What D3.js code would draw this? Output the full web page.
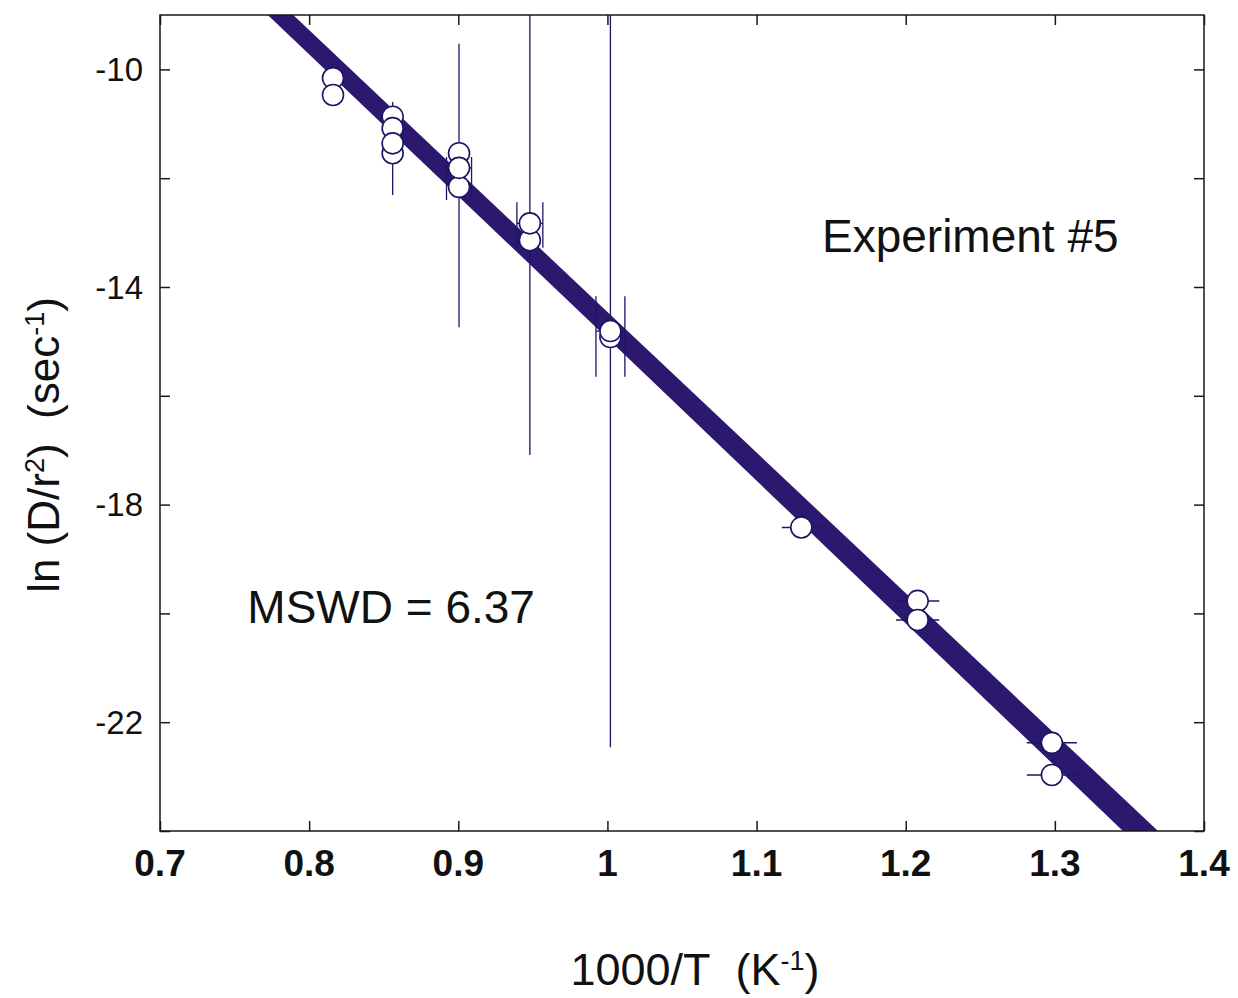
<!DOCTYPE html>
<html>
<head>
<meta charset="utf-8">
<script src="https://cdn.jsdelivr.net/npm/d3@7"></script>
<style>
  html, body { margin: 0; padding: 0; background: #ffffff; }
  svg { display: block; }
  text { font-family: "Liberation Sans", Arial, Helvetica, sans-serif; fill: #111; }
</style>
</head>
<body>
<svg id="chart" width="1238" height="998"></svg>
<script>
// ---------------- data ----------------
const xDomain = [0.7, 1.4];
const yDomain = [-24, -9];
const xTickValues = [0.7, 0.8, 0.9, 1.0, 1.1, 1.2, 1.3, 1.4];
const xTickLabels = ["0.7", "0.8", "0.9", "1", "1.1", "1.2", "1.3", "1.4"];
const yTickValues = [-24, -22, -20, -18, -16, -14, -12, -10];
const yLabelValues = [-22, -18, -14, -10];
const yLabelTexts = ["-22", "-18", "-14", "-10"];

// Arrhenius fit band (lower / upper edges)
const bandX = [0.76, 1.0, 1.38];
const bandLower = [-8.68, -14.94, -24.90];
const bandUpper = [-8.24, -14.46, -24.28];

// measured points (drawing order matters: later circles cover earlier ones)
const pointX = [0.816, 0.816,
                0.856, 0.856, 0.856, 0.856,
                0.9005, 0.9005, 0.9005,
                0.948, 0.948,
                1.002, 1.002,
                1.130,
                1.208, 1.208,
                1.298, 1.298];
const pointY = [-10.16, -10.47,
                -11.54, -10.87, -11.08, -11.36,
                -12.16, -11.54, -11.81,
                -13.14, -12.83,
                -14.92, -14.81,
                -18.42,
                -19.77, -20.12,
                -22.38, -22.97];

// vertical (y) error bars
const yBarX  = [0.856, 0.9005, 0.948, 1.002];
const yBarLo = [-12.31, -14.74, -17.09, -22.46];
const yBarHi = [-10.60, -9.53, -8.70, -7.30];

// horizontal (x) error bars with tall caps
const capX     = [0.9005, 0.948, 1.002];
const capHalfX = [0.0084, 0.0087, 0.0097];
const capLo    = [-12.40, -13.28, -15.65];
const capHi    = [-11.61, -12.44, -14.17];
const capBarY  = [-11.81, -12.83, -14.81];

// horizontal (x) whiskers without caps
const whiskX    = [1.130, 1.208, 1.208, 1.298, 1.298];
const whiskY    = [-18.42, -19.77, -20.12, -22.38, -22.97];
const whiskHalf = [0.0131, 0.0145, 0.0145, 0.0168, 0.0168];

const annotations = [
  { text: "Experiment #5", x: 1.2433, y: -13.36 },
  { text: "MSWD = 6.37", x: 0.855, y: -20.18 }
];

// ---------------- layout ----------------
const svg = d3.select("#chart");
const plot = { left: 160, right: 1204, top: 15, bottom: 831 };
const x = d3.scaleLinear().domain(xDomain).range([plot.left, plot.right]);
const y = d3.scaleLinear().domain(yDomain).range([plot.bottom, plot.top]);

const ink = "#1c1666";
const bandColor = "#2c186e";

svg.append("rect").attr("width", 1238).attr("height", 998).attr("fill", "#fff");

svg.append("defs").append("clipPath").attr("id", "plotClip")
  .append("rect")
  .attr("x", plot.left).attr("y", plot.top)
  .attr("width", plot.right - plot.left).attr("height", plot.bottom - plot.top);

const g = svg.append("g").attr("clip-path", "url(#plotClip)");

// band
const bandData = bandX.map((d, i) => ({ x: d, lo: bandLower[i], hi: bandUpper[i] }));
g.append("path")
  .datum(bandData)
  .attr("fill", bandColor)
  .attr("d", d3.area().x(d => x(d.x)).y0(d => y(d.lo)).y1(d => y(d.hi)));

// y error bars
g.selectAll(".ybar").data(yBarX).enter().append("line")
  .attr("x1", d => x(d)).attr("x2", d => x(d))
  .attr("y1", (d, i) => y(yBarLo[i])).attr("y2", (d, i) => y(yBarHi[i]))
  .attr("stroke", ink).attr("stroke-width", 1.3);

// x error bars with caps
capX.forEach((cx, i) => {
  g.append("line")
    .attr("x1", x(cx - capHalfX[i])).attr("x2", x(cx + capHalfX[i]))
    .attr("y1", y(capBarY[i])).attr("y2", y(capBarY[i]))
    .attr("stroke", ink).attr("stroke-width", 1.3);
  [cx - capHalfX[i], cx + capHalfX[i]].forEach(ex => {
    g.append("line")
      .attr("x1", x(ex)).attr("x2", x(ex))
      .attr("y1", y(capLo[i])).attr("y2", y(capHi[i]))
      .attr("stroke", ink).attr("stroke-width", 1.3);
  });
});

// whiskers
g.selectAll(".whisk").data(whiskX).enter().append("line")
  .attr("x1", (d, i) => x(d - whiskHalf[i])).attr("x2", (d, i) => x(d + whiskHalf[i]))
  .attr("y1", (d, i) => y(whiskY[i])).attr("y2", (d, i) => y(whiskY[i]))
  .attr("stroke", ink).attr("stroke-width", 1.5);

// points
g.selectAll(".pt").data(pointX).enter().append("circle")
  .attr("cx", d => x(d)).attr("cy", (d, i) => y(pointY[i]))
  .attr("r", 10.5)
  .attr("fill", "#fff").attr("stroke", ink).attr("stroke-width", 1.6);

// ---------------- axes frame & ticks ----------------
const axisColor = "#1a1a12";
svg.append("rect")
  .attr("x", plot.left).attr("y", plot.top)
  .attr("width", plot.right - plot.left).attr("height", plot.bottom - plot.top)
  .attr("fill", "none").attr("stroke", axisColor).attr("stroke-width", 1.5);

const tickLen = 10;
const bottomAxis = d3.axisBottom(x).tickValues(xTickValues).tickSize(-tickLen).tickFormat("");
const topAxis = d3.axisTop(x).tickValues(xTickValues).tickSize(-tickLen).tickFormat("");
const leftAxis = d3.axisLeft(y).tickValues(yTickValues).tickSize(-tickLen).tickFormat("");
const rightAxis = d3.axisRight(y).tickValues(yTickValues).tickSize(-tickLen).tickFormat("");

function styleAxis(sel) {
  sel.select(".domain").remove();
  sel.selectAll(".tick line").attr("stroke", axisColor).attr("stroke-width", 1.5);
}
svg.append("g").attr("transform", `translate(0,${plot.bottom})`).call(bottomAxis).call(styleAxis);
svg.append("g").attr("transform", `translate(0,${plot.top})`).call(topAxis).call(styleAxis);
svg.append("g").attr("transform", `translate(${plot.left},0)`).call(leftAxis).call(styleAxis);
svg.append("g").attr("transform", `translate(${plot.right},0)`).call(rightAxis).call(styleAxis);

// tick labels
svg.selectAll(".xlab").data(xTickValues).enter().append("text")
  .attr("x", d => x(d)).attr("y", 876)
  .attr("text-anchor", "middle")
  .attr("font-size", 37).attr("font-weight", "bold")
  .text((d, i) => xTickLabels[i]);

svg.selectAll(".ylab").data(yLabelValues).enter().append("text")
  .attr("x", 143).attr("y", d => y(d))
  .attr("dy", "0.36em")
  .attr("text-anchor", "end")
  .attr("font-size", 33)
  .text((d, i) => yLabelTexts[i]);

// annotations
svg.selectAll(".ann").data(annotations).enter().append("text")
  .attr("x", d => x(d.x)).attr("y", d => y(d.y))
  .attr("text-anchor", "middle")
  .attr("font-size", 46)
  .text(d => d.text);

// axis titles
const xt = svg.append("text")
  .attr("x", 695).attr("y", 985)
  .attr("text-anchor", "middle")
  .attr("font-size", 45);
xt.append("tspan").text("1000/T\u00a0\u00a0(K");
xt.append("tspan").attr("baseline-shift", "super").attr("font-size", 27).text("-1");
xt.append("tspan").text(")");

const yt = svg.append("text")
  .attr("transform", "translate(59,445) rotate(-90)")
  .attr("text-anchor", "middle")
  .attr("font-size", 44);
yt.append("tspan").text("ln (D/r");
yt.append("tspan").attr("baseline-shift", "super").attr("font-size", 27).text("2");
yt.append("tspan").text(")\u00a0\u00a0(sec");
yt.append("tspan").attr("baseline-shift", "super").attr("font-size", 27).text("-1");
yt.append("tspan").text(")");
</script>
</body>
</html>
